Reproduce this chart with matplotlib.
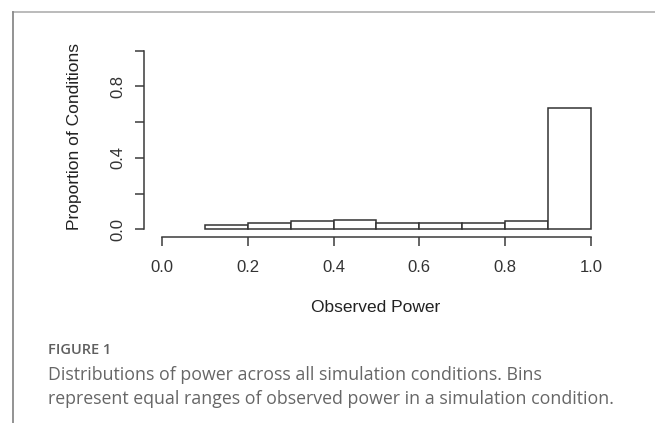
import numpy as np
import matplotlib
matplotlib.use("Agg")
import matplotlib.pyplot as plt
from matplotlib.lines import Line2D

# histogram of observed power, 10 equal bins on [0, 1]
bin_edges = [0.0, 0.1, 0.2, 0.3, 0.4, 0.5, 0.6, 0.7, 0.8, 0.9, 1.0]
proportions = [0.0, 0.024, 0.037, 0.047, 0.052, 0.037, 0.037, 0.037, 0.048, 0.678]

x_ticks = [0.0, 0.2, 0.4, 0.6, 0.8, 1.0]
x_tick_labels = ["0.0", "0.2", "0.4", "0.6", "0.8", "1.0"]
y_ticks = [0.0, 0.2, 0.4, 0.6, 0.8, 1.0]
y_tick_labels = ["0.0", "", "0.4", "", "0.8", ""]

caption_title = "FIGURE 1"
caption_lines = [
    "Distributions of power across all simulation conditions. Bins",
    "represent equal ranges of observed power in a simulation condition.",
]

W, H = 655, 423
fig = plt.figure(figsize=(W / 100, H / 100), dpi=100)
fig.patch.set_facecolor("white")


def px(x, y):
    """pixel (from top-left) -> figure fraction"""
    return x / W, 1 - y / H


# axes box in pixels
left, right, top, bottom = 144, 608, 43.6, 237.3
ax = fig.add_axes([left / W, 1 - bottom / H, (right - left) / W, (bottom - top) / H])
ax.set_xlim(-0.042, 1.04)
ax.set_ylim(-0.045, 1.04)

edges = np.array(bin_edges)
heights = np.array(proportions)
keep = heights > 0
ax.bar(edges[:-1][keep], heights[keep], width=np.diff(edges)[keep], align="edge",
       facecolor="white", edgecolor="#333333", linewidth=1.1, clip_on=False)

axis_col = "#3a3a3a"
for s in ["top", "right"]:
    ax.spines[s].set_visible(False)
ax.spines["left"].set_bounds(0, 1)
ax.spines["bottom"].set_bounds(0, 1)
for s in ["left", "bottom"]:
    ax.spines[s].set_color(axis_col)
    ax.spines[s].set_linewidth(1.1)

font = "Liberation Sans"
ax.set_xticks(x_ticks)
ax.set_xticklabels(x_tick_labels, fontsize=12, family=font, color="#333333")
ax.set_yticks(y_ticks)
ax.set_yticklabels(y_tick_labels, fontsize=12, family=font, color="#333333",
                   rotation=90, va="center")
ax.tick_params(axis="both", direction="out", length=6.5, width=1.1, color=axis_col)
ax.tick_params(axis="x", pad=10)
ax.tick_params(axis="y", pad=7)

ax.set_xlabel("Observed Power", fontsize=12.5, family=font, color="#222222")
ax.xaxis.set_label_coords(0.5, -(307 - bottom) / (bottom - top), transform=ax.transAxes)
ax.set_ylabel("Proportion of Conditions", fontsize=12.5, family=font, color="#222222")
ax.yaxis.set_label_coords(-(left - 75) / (right - left), (bottom - 137) / (bottom - top))
ax.xaxis.label.set_va("center")
ax.yaxis.label.set_va("center")

# panel frame: top and left rules
fig.add_artist(Line2D([px(13, 0)[0], 1.0], [px(0, 11.7)[1]] * 2, color="#b5b5b5", lw=1.3))
fig.add_artist(Line2D([px(13, 0)[0]] * 2, [px(0, 11.7)[1], 0.0], color="#8a8a8a", lw=1.3))

# caption
cap_font = "Open Sans"
fig.text(*px(48, 350), caption_title, fontsize=10.5, family=cap_font, weight="semibold",
         color="#5f5f5f", va="center", ha="left")
for i, line in enumerate(caption_lines):
    fig.text(*px(48, 375 + i * 24), line, fontsize=12.8, family=cap_font,
             color="#666666", va="center", ha="left")

fig.savefig("out.png", dpi=100, facecolor="white")
